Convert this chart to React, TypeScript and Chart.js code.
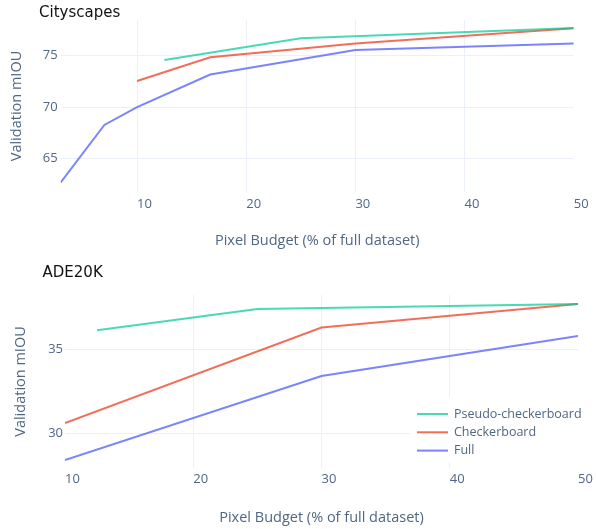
import React, { useEffect, useRef } from 'react';
import { Chart, registerables } from 'chart.js';
Chart.register(...registerables);

// ---- data ----
const seriesNames = ['Pseudo-checkerboard', 'Checkerboard', 'Full'];
const seriesColors = ['rgba(0,204,150,0.72)', 'rgba(239,85,59,0.85)', 'rgba(99,110,250,0.85)'];

const cityPseudoX = [12.5, 25, 50];
const cityPseudoY = [74.58, 76.7, 77.7];
const cityCheckerX = [10, 16.7, 30, 50];
const cityCheckerY = [72.53, 74.84, 76.2, 77.67];
const cityFullX = [3, 7, 10, 16.7, 30, 50];
const cityFullY = [62.65, 68.25, 70.0, 73.17, 75.55, 76.2];

const adePseudoX = [12.5, 25, 50];
const adePseudoY = [36.13, 37.4, 37.7];
const adeCheckerX = [10, 30, 50];
const adeCheckerY = [30.6, 36.29, 37.7];
const adeFullX = [10, 30, 50];
const adeFullY = [28.41, 33.41, 35.79];

const cityXTicks = [10, 20, 30, 40, 50];
const cityYTicks = [65, 70, 75];
const adeXTicks = [10, 20, 30, 40, 50];
const adeYTicks = [30, 35];

const cityXRange = [3, 50];
const cityYRange = [61.72, 78.48];
const adeXRange = [10, 50];
const adeYRange = [27.93, 38.23];

const xTitle = 'Pixel Budget (% of full dataset)';
const yTitle = 'Validation mIOU';

const GRID = '#EBF0F8';
const AXIS_TEXT = '#506784';

const overlayPlugin = {
  id: 'overlay',
  beforeDatasetsDraw(chart: any, _a: any, opts: any) {
    if (!opts.legend) return;
    const ctx = chart.ctx;
    const L = opts.legend;
    ctx.save();
    ctx.fillStyle = '#ffffff';
    ctx.fillRect(L.boxX, L.boxY, L.boxW, L.boxH);
    ctx.restore();
  },
  afterDraw(chart: any, _a: any, opts: any) {
    const ctx = chart.ctx;
    ctx.save();
    ctx.font = '15px "DejaVu Sans"';
    ctx.fillStyle = '#111111';
    ctx.textBaseline = 'alphabetic';
    ctx.textAlign = 'left';
    ctx.fillText(opts.title, opts.titleX, opts.titleY);
    if (opts.legend) {
      const L = opts.legend;
      chart.data.datasets.forEach((ds: any, i: number) => {
        const y = L.rowY + i * L.rowGap;
        ctx.strokeStyle = ds.borderColor;
        ctx.lineWidth = 2;
        ctx.beginPath();
        ctx.moveTo(L.lineX1, y);
        ctx.lineTo(L.lineX2, y);
        ctx.stroke();
        ctx.fillStyle = AXIS_TEXT;
        ctx.font = '12.5px "Open Sans"';
        ctx.textBaseline = 'middle';
        ctx.fillText(ds.label, L.textX, y);
      });
    }
    ctx.restore();
  },
};

function makeDatasets(xs: number[][], ys: number[][]) {
  return seriesNames.map((name, i) => ({
    label: name,
    data: xs[i].map((x, j) => ({ x, y: ys[i][j] })),
    borderColor: seriesColors[i],
    backgroundColor: seriesColors[i],
    borderWidth: 2,
    pointRadius: 0,
    tension: 0,
    fill: false,
  }));
}

function makeConfig(p: any): any {
  return {
    type: 'line',
    data: { datasets: makeDatasets(p.xs, p.ys) },
    plugins: [overlayPlugin],
    options: {
      animation: false,
      responsive: false,
      maintainAspectRatio: false,
      layout: { padding: { top: p.padTop, right: p.padRight, left: 0, bottom: 0 } },
      plugins: {
        legend: { display: false },
        tooltip: { enabled: false },
        title: { display: false },
        overlay: { title: p.title, titleX: p.titleX, titleY: p.titleY, legend: p.legend },
      },
      scales: {
        x: {
          type: 'linear',
          min: p.xRange[0],
          max: p.xRange[1],
          afterFit: (s: any) => { s.height = p.xHeight; },
          afterBuildTicks: (s: any) => { s.ticks = p.xTicks.map((v: number) => ({ value: v })); },
          border: { display: false },
          grid: {
            drawTicks: false,
            lineWidth: 1,
            color: (c: any) =>
              c.tick && (c.tick.value === p.xRange[0] || c.tick.value === p.xRange[1]) ? 'rgba(0,0,0,0)' : GRID,
          },
          ticks: {
            align: 'start',
            padding: p.xTickPad,
            maxRotation: 0,
            autoSkip: false,
            color: AXIS_TEXT,
            font: { family: 'Open Sans', size: 13 },
            callback: (v: any) => String(v),
          },
          title: {
            display: true,
            text: xTitle,
            color: AXIS_TEXT,
            font: { family: 'Open Sans', size: 14.5 },
            padding: { top: 0, bottom: p.xTitlePad },
          },
        },
        y: {
          type: 'linear',
          min: p.yRange[0],
          max: p.yRange[1],
          afterFit: (s: any) => { s.width = p.yWidth; },
          afterBuildTicks: (s: any) => { s.ticks = p.yTicks.map((v: number) => ({ value: v })); },
          border: { display: false },
          grid: { drawTicks: false, lineWidth: 1, color: GRID },
          ticks: {
            padding: p.yTickPad,
            color: AXIS_TEXT,
            font: { family: 'Open Sans', size: 13 },
            callback: (v: any) => String(v),
          },
          title: {
            display: true,
            text: yTitle,
            color: AXIS_TEXT,
            font: { family: 'Open Sans', size: 14.5 },
            padding: { top: p.yTitlePad, bottom: 0 },
          },
        },
      },
    },
  };
}

function ChartCanvas({ params, width, height }: { params: any; width: number; height: number }) {
  const ref = useRef<HTMLCanvasElement | null>(null);
  useEffect(() => {
    if (!ref.current) return;
    const chart = new Chart(ref.current, makeConfig(params));
    return () => chart.destroy();
  }, []);
  return <canvas ref={ref} width={width} height={height} style={{ display: 'block', width, height }} />;
}

const cityParams = {
  xs: [cityPseudoX, cityCheckerX, cityFullX],
  ys: [cityPseudoY, cityCheckerY, cityFullY],
  xRange: cityXRange,
  yRange: cityYRange,
  xTicks: cityXTicks,
  yTicks: cityYTicks,
  padTop: 20,
  padRight: 23.3,
  xHeight: 66,
  yWidth: 60.7,
  xTickPad: 4,
  yTickPad: 3,
  xTitlePad: 8.6,
  yTitlePad: 8,
  title: 'Cityscapes',
  titleX: 39,
  titleY: 17.3,
  legend: null,
};

const adeParams = {
  xs: [adePseudoX, adeCheckerX, adeFullX],
  ys: [adePseudoY, adeCheckerY, adeFullY],
  xRange: adeXRange,
  yRange: adeYRange,
  xTicks: adeXTicks,
  yTicks: adeYTicks,
  padTop: 37,
  padRight: 19,
  xHeight: 61,
  yWidth: 65,
  xTickPad: 3,
  yTickPad: 2,
  xTitlePad: 2,
  yTitlePad: 12,
  title: 'ADE20K',
  titleX: 42.5,
  titleY: 18.7,
  legend: {
    boxX: 410, boxY: 139, boxW: 187, boxH: 65,
    rowY: 156, rowGap: 18.3,
    lineX1: 417, lineX2: 448, textX: 454,
  },
};

export default function App() {
  return (
    <div style={{ position: 'absolute', left: 0, top: 0, width: 597, height: 529, background: '#fff' }}>
      <ChartCanvas params={cityParams} width={597} height={258} />
      <ChartCanvas params={adeParams} width={597} height={271} />
    </div>
  );
}
